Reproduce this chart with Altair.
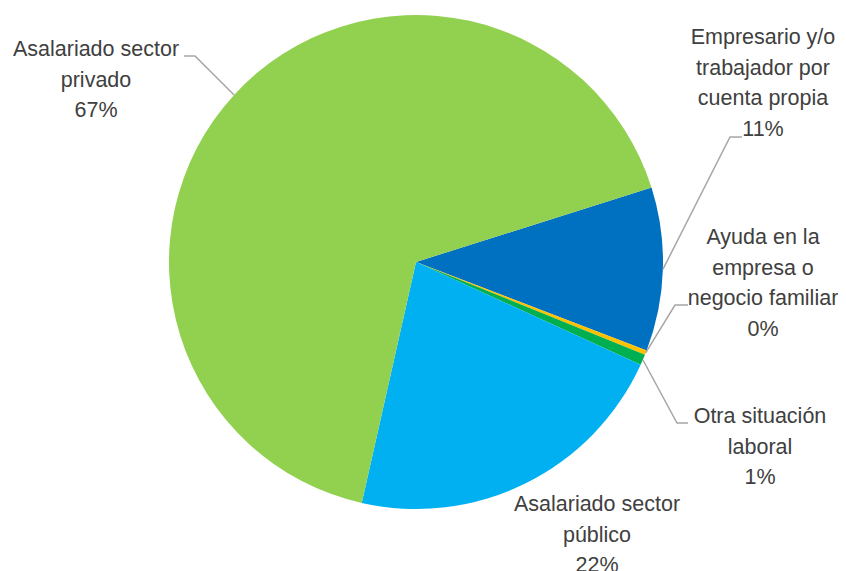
import math
import altair as alt
import pandas as pd

# ---- data ----
categorias = [
    "Empresario y/o trabajador por cuenta propia",
    "Ayuda en la empresa o negocio familiar",
    "Otra situación laboral",
    "Asalariado sector público",
    "Asalariado sector privado",
]
etiquetas = [
    "Empresario y/o\ntrabajador por\ncuenta propia",
    "Ayuda en la\nempresa o\nnegocio familiar",
    "Otra situación\nlaboral",
    "Asalariado sector\npúblico",
    "Asalariado sector\nprivado",
]
valores = [10.7, 0.3, 0.7, 21.7, 66.6]
colores = ["#0070C0", "#FFC000", "#00B050", "#00B0F0", "#92D050"]

# ---- layout (view pixel coordinates) ----
W, H = 816, 508
CX, CY, R = W / 2, H / 2, 247
START_DEG = 72.45
label_anchor = [(755, 36), (755, 236), (752, 415), (589, 503), (88, 48)]
leader_elbow = [(722, 129), (667, 297), (669, 415), None, (187, 48)]
leader_end = [(734, 129), (680, 297), (680, 415), None, (176, 48)]
FONT = "Liberation Sans, Arial, sans-serif"
FSIZE = 21.5
LINE_H = 30.7
TXT = "#404040"

total = sum(valores)
start = math.radians(START_DEG)

pie_df = pd.DataFrame({
    "categoria": categorias,
    "valor": valores,
    "orden": list(range(len(categorias))),
})

txt_rows = []
line_rows = []
acc = 0.0
for i, (c, lab, v) in enumerate(zip(categorias, etiquetas, valores)):
    mid = start + 2 * math.pi * (acc + v / 2) / total
    acc += v
    pct = f"{round(v):d}%"
    ax, ay = label_anchor[i]
    txt_rows.append({"categoria": c, "texto": lab + "\n" + pct, "x": ax, "y": ay})
    if leader_elbow[i] is not None:
        sx = CX + R * math.sin(mid)
        sy = CY - R * math.cos(mid)
        pts = [(sx, sy), leader_elbow[i], leader_end[i]]
        for k, (px, py) in enumerate(pts):
            line_rows.append({"categoria": c, "k": k, "x": px, "y": py})

txt_df = pd.DataFrame(txt_rows)
line_df = pd.DataFrame(line_rows)

xs = alt.Scale(domain=[0, W], nice=False, zero=False)
ys = alt.Scale(domain=[H, 0], nice=False, zero=False)

pie = alt.Chart(pie_df).mark_arc(outerRadius=R).encode(
    theta=alt.Theta("valor:Q", stack=True,
                    scale=alt.Scale(range=[start, start + 2 * math.pi])),
    color=alt.Color("categoria:N", scale=alt.Scale(domain=categorias, range=colores),
                    legend=None),
    order=alt.Order("orden:Q"),
)

leaders = alt.Chart(line_df).mark_line(color="#A6A6A6", strokeWidth=1.5).encode(
    x=alt.X("x:Q", scale=xs, axis=None),
    y=alt.Y("y:Q", scale=ys, axis=None),
    detail="categoria:N",
    order="k:Q",
)

labels = alt.Chart(txt_df).mark_text(
    font=FONT, fontSize=FSIZE, color=TXT, align="center", baseline="alphabetic",
    lineBreak="\n", lineHeight=LINE_H,
).encode(
    x=alt.X("x:Q", scale=xs, axis=None),
    y=alt.Y("y:Q", scale=ys, axis=None),
    text="texto:N",
)

chart = alt.layer(pie, leaders, labels).properties(
    width=W, height=H,
    autosize=alt.AutoSizeParams(type="none"),
    padding={"left": 0, "top": 0, "right": 14, "bottom": 55},
    background="white",
).configure_view(stroke=None)

chart.save("out.html", embed_options={"renderer": "svg", "actions": False})
